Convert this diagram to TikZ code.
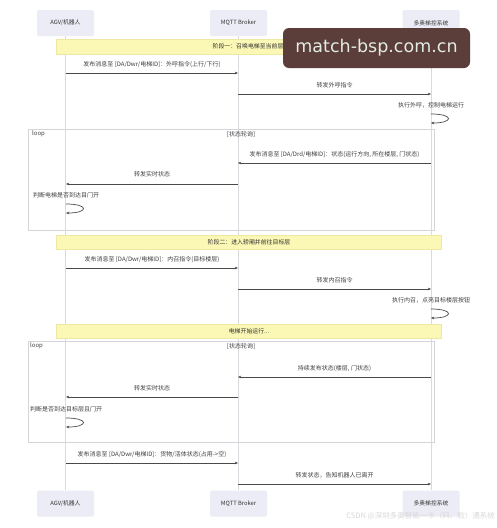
\documentclass[tikz,border=0pt]{standalone}
\usepackage{fontspec}
\setmainfont{Noto Sans CJK SC}
\newfontfamily\wmfont{DejaVu Sans}
\usetikzlibrary{arrows.meta}
\definecolor{partfill}{HTML}{ECECF6}
\definecolor{lifecol}{HTML}{D9D9E0}
\definecolor{bannerfill}{HTML}{FBF7B4}
\definecolor{bannerdraw}{HTML}{EFE8A2}
\definecolor{msgcol}{HTML}{4A4A4A}
\definecolor{framecol}{HTML}{D4D4DA}
\definecolor{wmbox}{HTML}{5B3E3A}
\definecolor{wmtext}{HTML}{E2ECE4}
\definecolor{csdncol}{HTML}{D8D8D8}
\tikzset{
  x=1pt, y=-1pt,
  part/.style={fill=partfill, draw=none, rounded corners=1.5pt, minimum width=57pt, minimum height=26pt, font=\fontsize{5.8}{6.5}\selectfont, text=black!80, inner sep=0pt},
  lifeline/.style={draw=lifecol, line width=0.9pt},
  banner/.style={fill=bannerfill, draw=bannerdraw, line width=0.4pt},
  bannertext/.style={font=\fontsize{5.9}{6.5}\selectfont, text=black!80, inner sep=0pt},
  msg/.style={draw=msgcol, line width=0.7pt, -{Stealth[length=3.2pt,width=2.6pt]}},
  lbl/.style={font=\fontsize{6}{6.5}\selectfont, text=black!75, inner sep=0pt},
  frame/.style={draw=framecol, line width=0.6pt},
}
\begin{document}
\begin{tikzpicture}
\useasboundingbox (0,0) rectangle (497,528);
\fill[white] (0,0) rectangle (497,528);
% participants
\node[part] (agvT) at (65.5,23) {AGV/机器人};
\node[part] (mqT) at (238.5,23) {MQTT Broker};
\node[part] (sysT) at (431,23) {多奥梯控系统};
\node[part] (agvB) at (65.5,503.5) {AGV/机器人};
\node[part] (mqB) at (238.5,503.5) {MQTT Broker};
\node[part] (sysB) at (431,503.5) {多奥梯控系统};
% lifelines
\draw[lifeline] (agvT.south) -- (agvB.north);
\draw[lifeline] (mqT.south) -- (mqB.north);
\draw[lifeline] (sysT.south) -- (sysB.north);
% loop frames
\draw[frame] (28,129) rectangle (434,230);
\node[lbl, anchor=west] (loop1) at (32,134) {loop};
\node[lbl] (cond1) at (241,134) {[状态轮询]};
\draw[frame] (28,341) rectangle (434,442);
\node[lbl, anchor=west] (loop2) at (30,346) {loop};
\node[lbl] (cond2) at (241,346) {[状态轮询]};
% banners
\draw[banner] (56,39) rectangle (441,54);
\node[bannertext] (b1) at (248,46.5) {阶段一：召唤电梯至当前层};
\draw[banner] (56,235) rectangle (441,249);
\node[bannertext] (b2) at (249,242) {阶段二：进入轿厢并前往目标层};
\draw[banner] (56,324) rectangle (441,338);
\node[bannertext] (b3) at (249,331) {电梯开始运行...};
% coordinates
\coordinate (a1) at (66,73);  \coordinate (m1) at (238,73);
\coordinate (m2) at (238,94); \coordinate (s2) at (431,94);
\coordinate (s3a) at (431,114); \coordinate (s3b) at (431,123);
\coordinate (s4) at (431,163); \coordinate (m4) at (238,163);
\coordinate (m5) at (238,184); \coordinate (a5) at (66,184);
\coordinate (a6a) at (66,204); \coordinate (a6b) at (66,213);
\coordinate (a7) at (66,268); \coordinate (m7) at (238,268);
\coordinate (m8) at (238,289); \coordinate (s8) at (431,289);
\coordinate (s9a) at (431,309); \coordinate (s9b) at (431,318);
\coordinate (s10) at (431,377); \coordinate (m10) at (238,377);
\coordinate (m11) at (238,397); \coordinate (a11) at (66,397);
\coordinate (a12a) at (66,418); \coordinate (a12b) at (66,427);
\coordinate (a13) at (66,463); \coordinate (m13) at (238,463);
\coordinate (m14) at (238,484); \coordinate (s14) at (431,484);
% messages
\draw[msg] (a1) -- (m1) node[lbl, midway, yshift=8pt] (t1) {发布消息至 [DA/Dwr/电梯ID]：外呼指令(上行/下行)};
\draw[msg] (m2) -- (s2) node[lbl, midway, yshift=8.5pt] (t2) {转发外呼指令};
\node[lbl] (t3) at (431,105) {执行外呼，控制电梯运行};
\draw[msg] (s3a) .. controls (454,114) and (454,123) .. (s3b);
\draw[msg] (s4) -- (m4) node[lbl, midway, yshift=8.5pt] (t4) {发布消息至 [DA/Drd/电梯ID]：状态(运行方向, 所在楼层, 门状态)};
\draw[msg] (m5) -- (a5) node[lbl, midway, yshift=9.5pt] (t5) {转发实时状态};
\node[lbl, anchor=west] (t6) at (33,195) {判断电梯是否到达目门开};
\draw[msg] (a6a) .. controls (89,204) and (89,213) .. (a6b);
\draw[msg] (a7) -- (m7) node[lbl, midway, yshift=8.5pt] (t7) {发布消息至 [DA/Dwr/电梯ID]：内召指令(目标楼层)};
\draw[msg] (m8) -- (s8) node[lbl, midway, yshift=9pt] (t8) {转发内召指令};
\node[lbl] (t9) at (431,300) {执行内召，点亮目标楼层按钮};
\draw[msg] (s9a) .. controls (454,309) and (454,318) .. (s9b);
\draw[msg] (s10) -- (m10) node[lbl, midway, yshift=8.5pt] (t10) {持续发布状态(楼层, 门状态)};
\draw[msg] (m11) -- (a11) node[lbl, midway, yshift=9pt] (t11) {转发实时状态};
\node[lbl, anchor=west] (t12) at (30,409) {判断是否到达目标层且门开};
\draw[msg] (a12a) .. controls (89,418) and (89,427) .. (a12b);
\draw[msg] (a13) -- (m13) node[lbl, midway, yshift=8.5pt] (t13) {发布消息至 [DA/Dwr/电梯ID]：货物/活体状态(占用->空)};
\draw[msg] (m14) -- (s14) node[lbl, midway, yshift=9pt] (t14) {转发状态，告知机器人已离开};
% watermark
\node[fill=wmbox, rounded corners=6pt, minimum width=187pt, minimum height=40pt, inner sep=0pt, text=wmtext, font=\wmfont\fontsize{17.5}{19}\selectfont] (wm) at (376.5,48) {match-bsp.com.cn};
\node[text=csdncol, font=\fontsize{7.5}{8}\selectfont, inner sep=0pt, anchor=east] (csdn) at (495,516) {CSDN @深圳多奥智能一卡（码、脸）通系统};
\end{tikzpicture}
\end{document}
